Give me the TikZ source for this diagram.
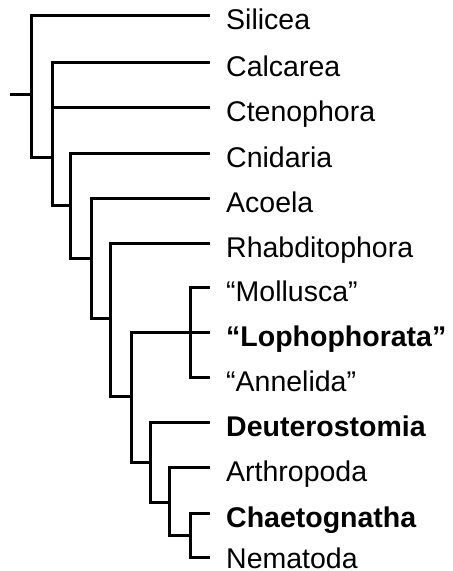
\documentclass[tikz,border=0pt]{standalone}
\usepackage{fontspec}
\setmainfont{Liberation Sans}
\begin{document}
\begin{tikzpicture}[x=1pt,y=-1pt,
  branch/.style={line width=3pt,line join=miter,line cap=butt},
  taxon/.style={anchor=base west,inner sep=0pt,font=\fontsize{28.5}{30}\selectfont},
  boldtaxon/.style={taxon,font=\fontsize{28.5}{30}\selectfont\bfseries}]
\useasboundingbox (0,0) rectangle (453,571);
% internal nodes
\coordinate (stub) at (10,94);
\coordinate (n0) at (31,94);
\coordinate (n1) at (52,157);
\coordinate (n2) at (70,205);
\coordinate (n3) at (91,258);
\coordinate (n4) at (110,318);
\coordinate (n5) at (131,396);
\coordinate (n6) at (190,332);
\coordinate (n7) at (150,462);
\coordinate (n8) at (169,502);
\coordinate (n9) at (190,535);
% leaf tips
\foreach \name/\y in {sil/15,cal/62,cte/107,cni/153,aco/198,rha/243,mol/287,lop/332,ann/377,deu/422,art/467,cha/513,nem/557}
  \coordinate (t\name) at (210,\y);
% labels
\node[taxon] (lsil) at (226,29) {Silicea};
\node[taxon] (lcal) at (226,76) {Calcarea};
\node[taxon] (lcte) at (226,121) {Ctenophora};
\node[taxon] (lcni) at (226,167) {Cnidaria};
\node[taxon] (laco) at (226,212) {Acoela};
\node[taxon] (lrha) at (226,257) {Rhabditophora};
\node[taxon] (lmol) at (226,301) {“Mollusca”};
\node[boldtaxon] (llop) at (226,346) {“Lophophorata”};
\node[taxon] (lann) at (226,391) {“Annelida”};
\node[boldtaxon] (ldeu) at (226,436) {Deuterostomia};
\node[taxon] (lart) at (226,481) {Arthropoda};
\node[boldtaxon] (lcha) at (226,527) {Chaetognatha};
\node[taxon] (lnem) at (226,568) {Nematoda};
% branches
\draw[branch] (stub) -- (n0);
\draw[branch] (n0) |- (tsil);
\draw[branch] (n0) |- (n1);
\draw[branch] (n1) |- (tcal);
\draw[branch] (n1) |- (tcte);
\draw[branch] (n1) |- (n2);
\draw[branch] (n2) |- (tcni);
\draw[branch] (n2) |- (n3);
\draw[branch] (n3) |- (taco);
\draw[branch] (n3) |- (n4);
\draw[branch] (n4) |- (trha);
\draw[branch] (n4) |- (n5);
\draw[branch] (n5) |- (n6);
\draw[branch] (n6) |- (tmol);
\draw[branch] (n6) -- (tlop);
\draw[branch] (n6) |- (tann);
\draw[branch] (n5) |- (n7);
\draw[branch] (n7) |- (tdeu);
\draw[branch] (n7) |- (n8);
\draw[branch] (n8) |- (tart);
\draw[branch] (n8) |- (n9);
\draw[branch] (n9) |- (tcha);
\draw[branch] (n9) |- (tnem);
\end{tikzpicture}
\end{document}
